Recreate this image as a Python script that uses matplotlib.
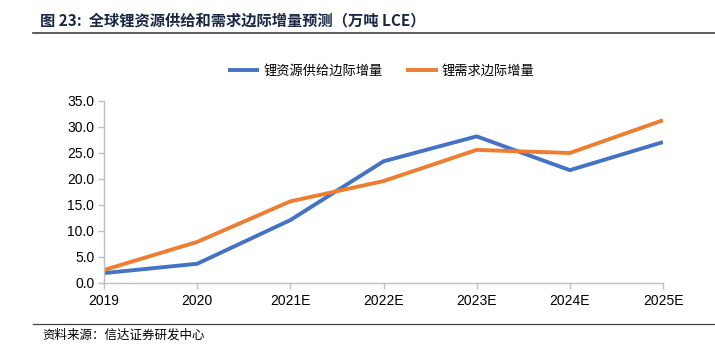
import matplotlib
matplotlib.use("Agg")
import matplotlib.pyplot as plt
from matplotlib.lines import Line2D

plt.rcParams['font.family'] = ['Noto Sans CJK SC', 'DejaVu Sans']

# data
years = ['2019', '2020', '2021E', '2022E', '2023E', '2024E', '2025E']
supply = [1.9, 3.7, 12.1, 23.4, 28.2, 21.7, 27.1]
demand = [2.5, 7.9, 15.7, 19.6, 25.6, 25.0, 31.3]
series_names = ['锂资源供给边际增量', '锂需求边际增量']
yticks = [0, 5, 10, 15, 20, 25, 30, 35]

fig = plt.figure(figsize=(7.15, 3.56), dpi=100)
W, H = 715, 356
ax = fig.add_axes([104 / W, 1 - 283 / H, (663 - 104) / W, (283 - 101) / H])

blue = '#4472C4'
orange = '#ED7D31'
x = range(len(years))
ax.plot(x, supply, color=blue, lw=2.8, label=series_names[0], solid_capstyle='butt')
ax.plot(x, demand, color=orange, lw=2.8, label=series_names[1], solid_capstyle='butt')

ax.set_xlim(0, len(years) - 1)
ax.set_ylim(0, 35)
ax.set_xticks(list(x))
ax.set_xticklabels(years, fontsize=10, family='Liberation Sans')
ax.set_yticks(yticks)
ax.set_yticklabels([f'{v:.1f}' for v in yticks], fontsize=10, family='Liberation Sans')
for s in ['top', 'right']:
    ax.spines[s].set_visible(False)
for s in ['left', 'bottom']:
    ax.spines[s].set_color('#BFBFBF')
    ax.spines[s].set_linewidth(1.0)
ax.tick_params(axis='both', color='#BFBFBF', length=4, width=1.0, pad=3)
ax.tick_params(axis='x', pad=4)

leg = fig.legend(loc='center', bbox_to_anchor=(381 / W, 1 - 71 / H), ncol=2,
                 frameon=False, fontsize=9.5, handlelength=2.4, columnspacing=1.8,
                 handletextpad=0.3)

# title and rule
fig.text(40 / W, 1 - 20 / H, '图 23:  全球锂资源供给和需求边际增量预测（万吨 LCE）',
         fontsize=11, fontweight='bold', color='#1A2744', va='center', ha='left')
fig.add_artist(Line2D([33 / W, 1.0], [1 - 33 / H, 1 - 33 / H], color='#404040', lw=1.2))

# source
fig.add_artist(Line2D([33 / W, 1.0], [1 - 324 / H, 1 - 324 / H], color='#404040', lw=0.9))
fig.text(42 / W, 1 - 335 / H, '资料来源：信达证券研发中心', fontsize=9, style='italic',
         va='center', ha='left')

fig.savefig('out.png', dpi=100)
